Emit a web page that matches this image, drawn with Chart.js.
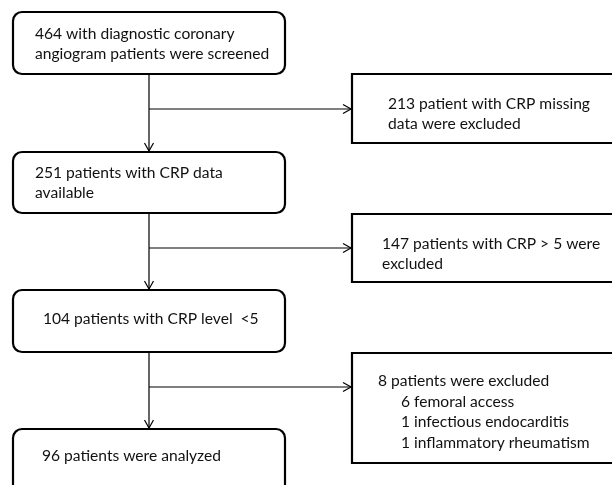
<!DOCTYPE html>
<html><head><meta charset="utf-8">
<script src="https://cdn.jsdelivr.net/npm/chart.js@4.4.1/dist/chart.umd.min.js"></script>
<style>html,body{margin:0;padding:0;background:#fff}#wrap{width:612px;height:485px;overflow:hidden}</style>
</head><body><div id="wrap"><canvas id="c" width="612" height="485"></canvas></div>
<script>
// ---- content ----
const stageCounts = [464, 251, 104, 96];
const stageLabels = [
  ["464 with diagnostic coronary", "angiogram patients were screened"],
  ["251 patients with CRP data", "available"],
  ["104 patients with CRP level  <5"],
  ["96 patients were analyzed"]
];
const exclusionCounts = [213, 147, 8];
const exclusionLabels = [
  ["213 patient with CRP missing", "data were excluded"],
  ["147 patients with CRP > 5 were", "excluded"],
  ["8 patients were excluded"]
];
const exclusionReasons = ["6 femoral access", "1 infectious endocarditis", "1 inflammatory rheumatism"];
const exclusionReasonCounts = [6, 1, 1];

// ---- layout (in scale units) ----
const mainX = [13, 285];
const mainY = [[12, 74], [152, 213], [290, 352], [429, 510]];
const mainText = [{x: 35, y: 34}, {x: 35, y: 173}, {x: 43, y: 319}, {x: 42, y: 456}];
const sideX = [352, 640];
const sideY = [[74, 143], [214, 282], [353, 463]];
const sideText = [{x: 388, y: 104}, {x: 382, y: 244}, {x: 378, y: 381}];
const reasonX = 401;
const trunkX = 149;
const branchY = [109, 248, 387];
const lineH = 19.5;

// connectors as datasets
const datasets = [];
for (let i = 0; i < 3; i++) {
  datasets.push({data: [{x: trunkX, y: mainY[i][1]}, {x: trunkX, y: mainY[i + 1][0]}]});
  datasets.push({data: [{x: trunkX, y: branchY[i]}, {x: sideX[0], y: branchY[i]}]});
}
datasets.forEach(d => Object.assign(d, {showLine: true, borderColor: '#000', borderWidth: 1.2, pointRadius: 0, fill: false}));

const FONT = '15.6px Lato, "Open Sans", sans-serif';

const flowPlugin = {
  id: 'flow',
  afterDatasetsDraw(chart) {
    const ctx = chart.ctx, xs = chart.scales.x, ys = chart.scales.y;
    const px = v => xs.getPixelForValue(v), py = v => ys.getPixelForValue(v);
    function box(x0, x1, y0, y1, r) {
      ctx.beginPath();
      if (ctx.roundRect) ctx.roundRect(px(x0), py(y0), px(x1) - px(x0), py(y1) - py(y0), r);
      else ctx.rect(px(x0), py(y0), px(x1) - px(x0), py(y1) - py(y0));
      ctx.fillStyle = '#fff'; ctx.fill();
      ctx.lineWidth = 2.2; ctx.strokeStyle = '#000'; ctx.stroke();
    }
    function arrowDown(x, y) {
      ctx.beginPath();
      ctx.moveTo(px(x) - 4.5, py(y) - 9); ctx.lineTo(px(x), py(y) - 1); ctx.lineTo(px(x) + 4.5, py(y) - 9);
      ctx.lineWidth = 1.2; ctx.strokeStyle = '#000'; ctx.stroke();
    }
    function arrowRight(x, y) {
      ctx.beginPath();
      ctx.moveTo(px(x) - 9, py(y) - 4.5); ctx.lineTo(px(x) - 1, py(y)); ctx.lineTo(px(x) - 9, py(y) + 4.5);
      ctx.lineWidth = 1.2; ctx.strokeStyle = '#000'; ctx.stroke();
    }
    ctx.save();
    mainY.forEach((yy) => box(mainX[0], mainX[1], yy[0], yy[1], 9));
    sideY.forEach((yy) => box(sideX[0], sideX[1], yy[0], yy[1], 0));
    for (let i = 0; i < 3; i++) { arrowDown(trunkX, mainY[i + 1][0]); arrowRight(sideX[0], branchY[i]); }
    ctx.font = FONT; ctx.fillStyle = '#111'; ctx.textBaseline = 'middle'; ctx.textAlign = 'left';
    stageLabels.forEach((lines, i) => lines.forEach((t, k) => ctx.fillText(t, px(mainText[i].x), py(mainText[i].y + k * lineH))));
    exclusionLabels.forEach((lines, i) => lines.forEach((t, k) => ctx.fillText(t, px(sideText[i].x), py(sideText[i].y + k * lineH))));
    exclusionReasons.forEach((t, k) => ctx.fillText(t, px(reasonX), py(sideText[2].y + (k + 1) * 20.5)));
    ctx.restore();
  }
};

new Chart(document.getElementById('c'), {
  type: 'scatter',
  data: {datasets},
  options: {
    responsive: false, animation: false, events: [],
    layout: {padding: 0},
    plugins: {legend: {display: false}, tooltip: {enabled: false}},
    scales: {
      x: {type: 'linear', min: 0, max: 612, display: false},
      y: {type: 'linear', min: 0, max: 485, reverse: true, display: false}
    }
  },
  plugins: [flowPlugin]
});
</script>
</body></html>
